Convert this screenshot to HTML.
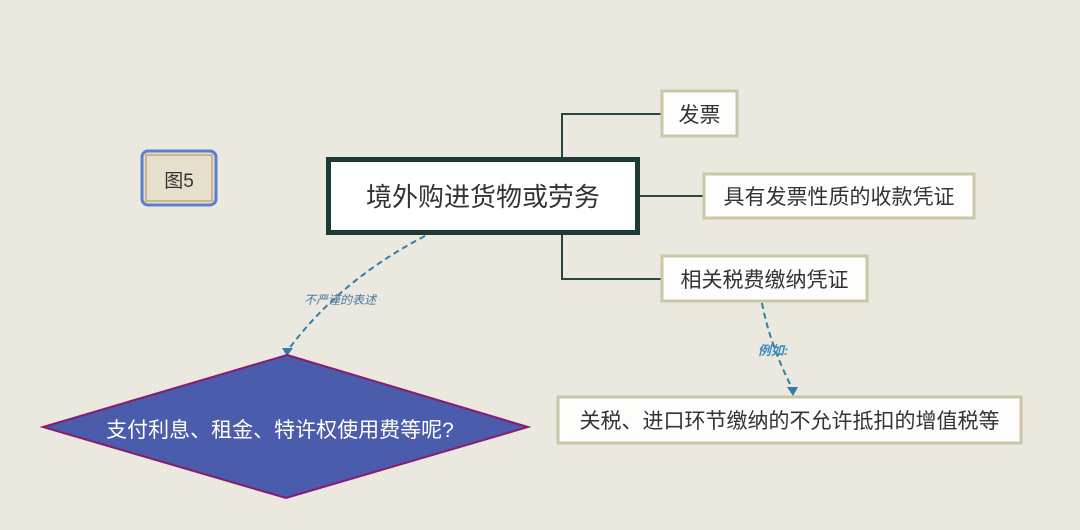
<!DOCTYPE html>
<html><head><meta charset="utf-8"><style>
html,body{margin:0;padding:0;background:#ebe8df;}
svg{display:block}
text{font-family:"Liberation Sans","Noto Sans CJK SC",sans-serif;}
</style></head><body>
<svg width="1080" height="530" viewBox="0 0 1080 530" xmlns="http://www.w3.org/2000/svg">
<rect width="1080" height="530" fill="#ebe8df"/>
<!-- 图5 -->
<rect x="142" y="151" width="74" height="54" rx="6" fill="#e6dfcc" stroke="#5b7fd0" stroke-width="3"/>
<rect x="146" y="155" width="66" height="46" fill="none" stroke="#c7b78a" stroke-width="2"/>
<text x="179" y="187" font-size="19" text-anchor="middle" fill="#333">图5</text>
<!-- connectors -->
<path d="M661 114 H562 V279 H661" fill="none" stroke="#2a4640" stroke-width="2"/>
<path d="M640 196 H703" fill="none" stroke="#2a4640" stroke-width="2"/>
<!-- main box -->
<rect x="328.5" y="159.5" width="309" height="73" fill="#fff" stroke="#1d3a34" stroke-width="5"/>
<text x="483" y="206" font-size="26" text-anchor="middle" fill="#333">境外购进货物或劳务</text>
<!-- child boxes -->
<rect x="662" y="91" width="75" height="45" fill="#fdfdfb" stroke="#cdc6a6" stroke-width="3"/>
<text x="699.5" y="122" font-size="21" text-anchor="middle" fill="#333">发票</text>
<rect x="704" y="174" width="270" height="44" fill="#fdfdfb" stroke="#cdc6a6" stroke-width="3"/>
<text x="839" y="204" font-size="21" text-anchor="middle" fill="#333">具有发票性质的收款凭证</text>
<rect x="662" y="256" width="205" height="45" fill="#fdfdfb" stroke="#cdc6a6" stroke-width="3"/>
<text x="764.5" y="287" font-size="21" text-anchor="middle" fill="#333">相关税费缴纳凭证</text>
<rect x="558" y="397" width="463" height="46" fill="#fdfdfb" stroke="#cdc6a6" stroke-width="3"/>
<text x="789.5" y="428" font-size="21" text-anchor="middle" fill="#333">关税、进口环节缴纳的不允许抵扣的增值税等</text>
<!-- dashed arrows -->
<path d="M425 236 Q340 280 288 350" fill="none" stroke="#2e7fa6" stroke-width="2" stroke-dasharray="6,4"/>
<polygon points="282,348 293,348 287,356" fill="#2e7fa6"/>
<text x="340" y="304" font-size="12" font-style="italic" text-anchor="middle" fill="#4a7a9a">不严谨的表述</text>
<path d="M762 303 Q770 345 792 388" fill="none" stroke="#2e7fa6" stroke-width="2" stroke-dasharray="6,4"/>
<polygon points="787,387 798,387 793,396" fill="#2e7fa6"/>
<text x="773" y="355" font-size="13" font-style="italic" font-weight="bold" text-anchor="middle" fill="#3a8ab8">例如:</text>
<!-- diamond -->
<polygon points="287,355 528,427 286,498 43,427" fill="#4a5cab" stroke="#8a1c70" stroke-width="2"/>
<text x="280" y="437" font-size="21" text-anchor="middle" fill="#fff">支付利息、租金、特许权使用费等呢?</text>
</svg>
</body></html>
